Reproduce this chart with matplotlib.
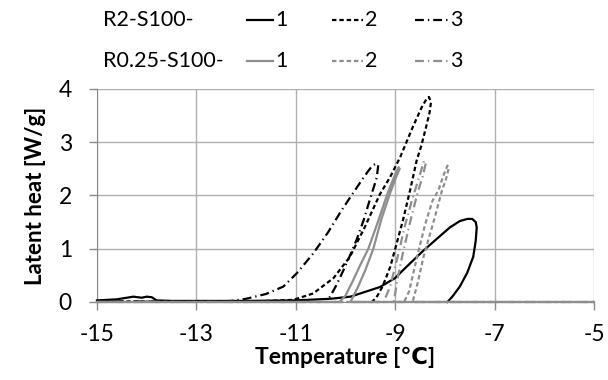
import numpy as np
import matplotlib
matplotlib.use("Agg")
import matplotlib.pyplot as plt
from matplotlib.lines import Line2D

plt.rcParams['font.family'] = ['Lato', 'DejaVu Sans']
plt.rcParams['axes.unicode_minus'] = False

# ── data (temperature [C], latent heat [W/g]) ──
# R2-S100-1 (black solid)
t_r2_1 = [-15, -14.6, -14.4, -14.27, -14.1, -14.0, -13.9, -13.8, -13.5, -12.0, -11.0,
          -10.3, -9.9, -9.31, -9.0, -8.84, -8.45, -8.17, -7.9, -7.7, -7.55, -7.45,
          -7.38, -7.36, -7.38, -7.43, -7.55, -7.7, -7.85, -7.95]
h_r2_1 = [0.03, 0.05, 0.08, 0.10, 0.08, 0.10, 0.09, 0.03, 0.02, 0.02, 0.03,
          0.06, 0.10, 0.28, 0.45, 0.6, 0.95, 1.18, 1.40, 1.52, 1.56, 1.56,
          1.50, 1.40, 1.15, 0.85, 0.55, 0.29, 0.10, 0.0]

# R2-S100-2 (black dashed)
t_r2_2 = [-15, -12.0, -11.6, -11.05, -10.65, -10.24, -9.91, -9.61, -9.31, -9.1, -8.9,
          -8.64, -8.47, -8.36, -8.32, -8.28, -8.31, -8.38, -8.47, -8.57, -8.70, -8.84,
          -8.97, -9.10, -9.25, -9.38, -9.47]
h_r2_2 = [0.01, 0.01, 0.02, 0.04, 0.16, 0.45, 0.85, 1.41, 2.02, 2.35, 2.72,
          3.30, 3.65, 3.83, 3.85, 3.75, 3.55, 3.28, 2.95, 2.65, 2.10, 1.55,
          1.10, 0.66, 0.30, 0.08, 0.0]

# R2-S100-3 (black dash-dot)
t_r2_3 = [-15, -12.5, -12.3, -12.0, -11.6, -11.25, -10.98, -10.65, -10.35, -10.08, -9.88,
          -9.7, -9.55, -9.46, -9.40, -9.34, -9.37, -9.45, -9.55, -9.63, -9.78, -9.92,
          -10.04, -10.18, -10.30, -10.36]
h_r2_3 = [0.01, 0.01, 0.02, 0.06, 0.15, 0.29, 0.54, 0.91, 1.31, 1.72, 2.0,
          2.25, 2.45, 2.56, 2.59, 2.58, 2.34, 2.10, 1.80, 1.55, 1.16, 0.85,
          0.60, 0.32, 0.12, 0.02]

# R0.25-S100-1 (grey solid)
t_r025_1 = [-15, -10.12, -10.0, -9.85, -9.7, -9.54, -9.35, -9.15, -9.0, -8.93,
            -8.91, -8.98, -9.1, -9.28, -9.44, -9.6, -9.75, -9.9, -5]
h_r025_1 = [0, 0, 0.12, 0.40, 0.70, 1.0, 1.5, 2.05, 2.40, 2.53,
            2.50, 2.35, 2.05, 1.55, 1.0, 0.6, 0.28, 0.0, 0]

# R0.25-S100-2 (grey dashed)
t_r025_2 = [-15, -8.82, -8.72, -8.56, -8.4, -8.25, -8.13, -8.02, -7.95,
            -7.92, -7.98, -8.06, -8.2, -8.43, -8.55, -8.65, -5]
h_r025_2 = [0, 0, 0.2, 0.85, 1.45, 1.9, 2.1, 2.4, 2.56,
            2.52, 2.3, 2.09, 1.6, 0.85, 0.35, 0.0, 0]

# R0.25-S100-3 (grey dash-dot)
t_r025_3 = [-15, -9.23, -9.1, -8.95, -8.8, -8.65, -8.5, -8.42,
            -8.38, -8.45, -8.55, -8.7, -8.85, -8.95, -9.03, -5]
h_r025_3 = [0, 0, 0.3, 0.85, 1.45, 1.95, 2.4, 2.65,
            2.62, 2.35, 2.05, 1.5, 0.9, 0.45, 0.0, 0]

x_ticks = [-15, -13, -11, -9, -7, -5]
y_ticks = [0, 1, 2, 3, 4]

# ── styles ──
BLACK = "#000000"
GREY = "#8e8e8e"
LW = 1.6
SOLID = "-"
DASH = (0, (2.0, 1.3))
DASHDOT = (0, (4.0, 1.8, 0.6, 1.8))
FS = 16.5

fig = plt.figure(figsize=(6.08, 3.80), dpi=100)
ax = fig.add_axes([0.1595, 0.2053, 0.8175, 0.5605])

series = [
    (t_r2_1, h_r2_1, BLACK, SOLID),
    (t_r2_2, h_r2_2, BLACK, DASH),
    (t_r2_3, h_r2_3, BLACK, DASHDOT),
    (t_r025_1, h_r025_1, GREY, SOLID),
    (t_r025_2, h_r025_2, GREY, DASH),
    (t_r025_3, h_r025_3, GREY, DASHDOT),
]
for t, h, c, ls in series:
    ax.plot(t, h, color=c, linestyle=ls, linewidth=LW, clip_on=False, zorder=3)

ax.set_xlim(-15, -5)
ax.set_ylim(0, 4)
ax.set_xticks(x_ticks)
ax.set_yticks(y_ticks)
ax.grid(True, color="#b0b0b0", linewidth=1.0)
ax.set_axisbelow(True)
for s in ["top", "right"]:
    ax.spines[s].set_visible(False)
ax.spines["left"].set_color("#8a8a8a")
ax.spines["bottom"].set_color("#8a8a8a")
ax.tick_params(axis="both", colors="#8a8a8a", length=6, width=1.0,
               labelcolor="black", labelsize=FS)
ax.tick_params(axis="y", pad=12)
ax.tick_params(axis="x", pad=10)

ax.set_xlabel("Temperature [℃]", fontsize=16.5, fontweight="bold", labelpad=1)
ax.set_ylabel("Latent heat [W/g]", fontsize=16, fontweight="bold", labelpad=9)

# ── custom legend at the top ──
rows = [("R2-S100-", BLACK, 0.947), ("R0.25-S100-", GREY, 0.839)]
samples = [(SOLID, 0.406, 0.449, "1"), (DASH, 0.546, 0.597, "2"), (DASHDOT, 0.683, 0.737, "3")]
for name, col, yy in rows:
    fig.text(0.169, yy, name, fontsize=15.5, va="center", ha="left")
    for ls, x0, x1, lab in samples:
        fig.add_artist(Line2D([x0, x1], [yy, yy], color=col, linestyle=ls,
                              linewidth=LW, transform=fig.transFigure))
        fig.text(x1 + 0.003, yy, lab, fontsize=15.5, va="center", ha="left")

fig.savefig("out.png", dpi=100)
